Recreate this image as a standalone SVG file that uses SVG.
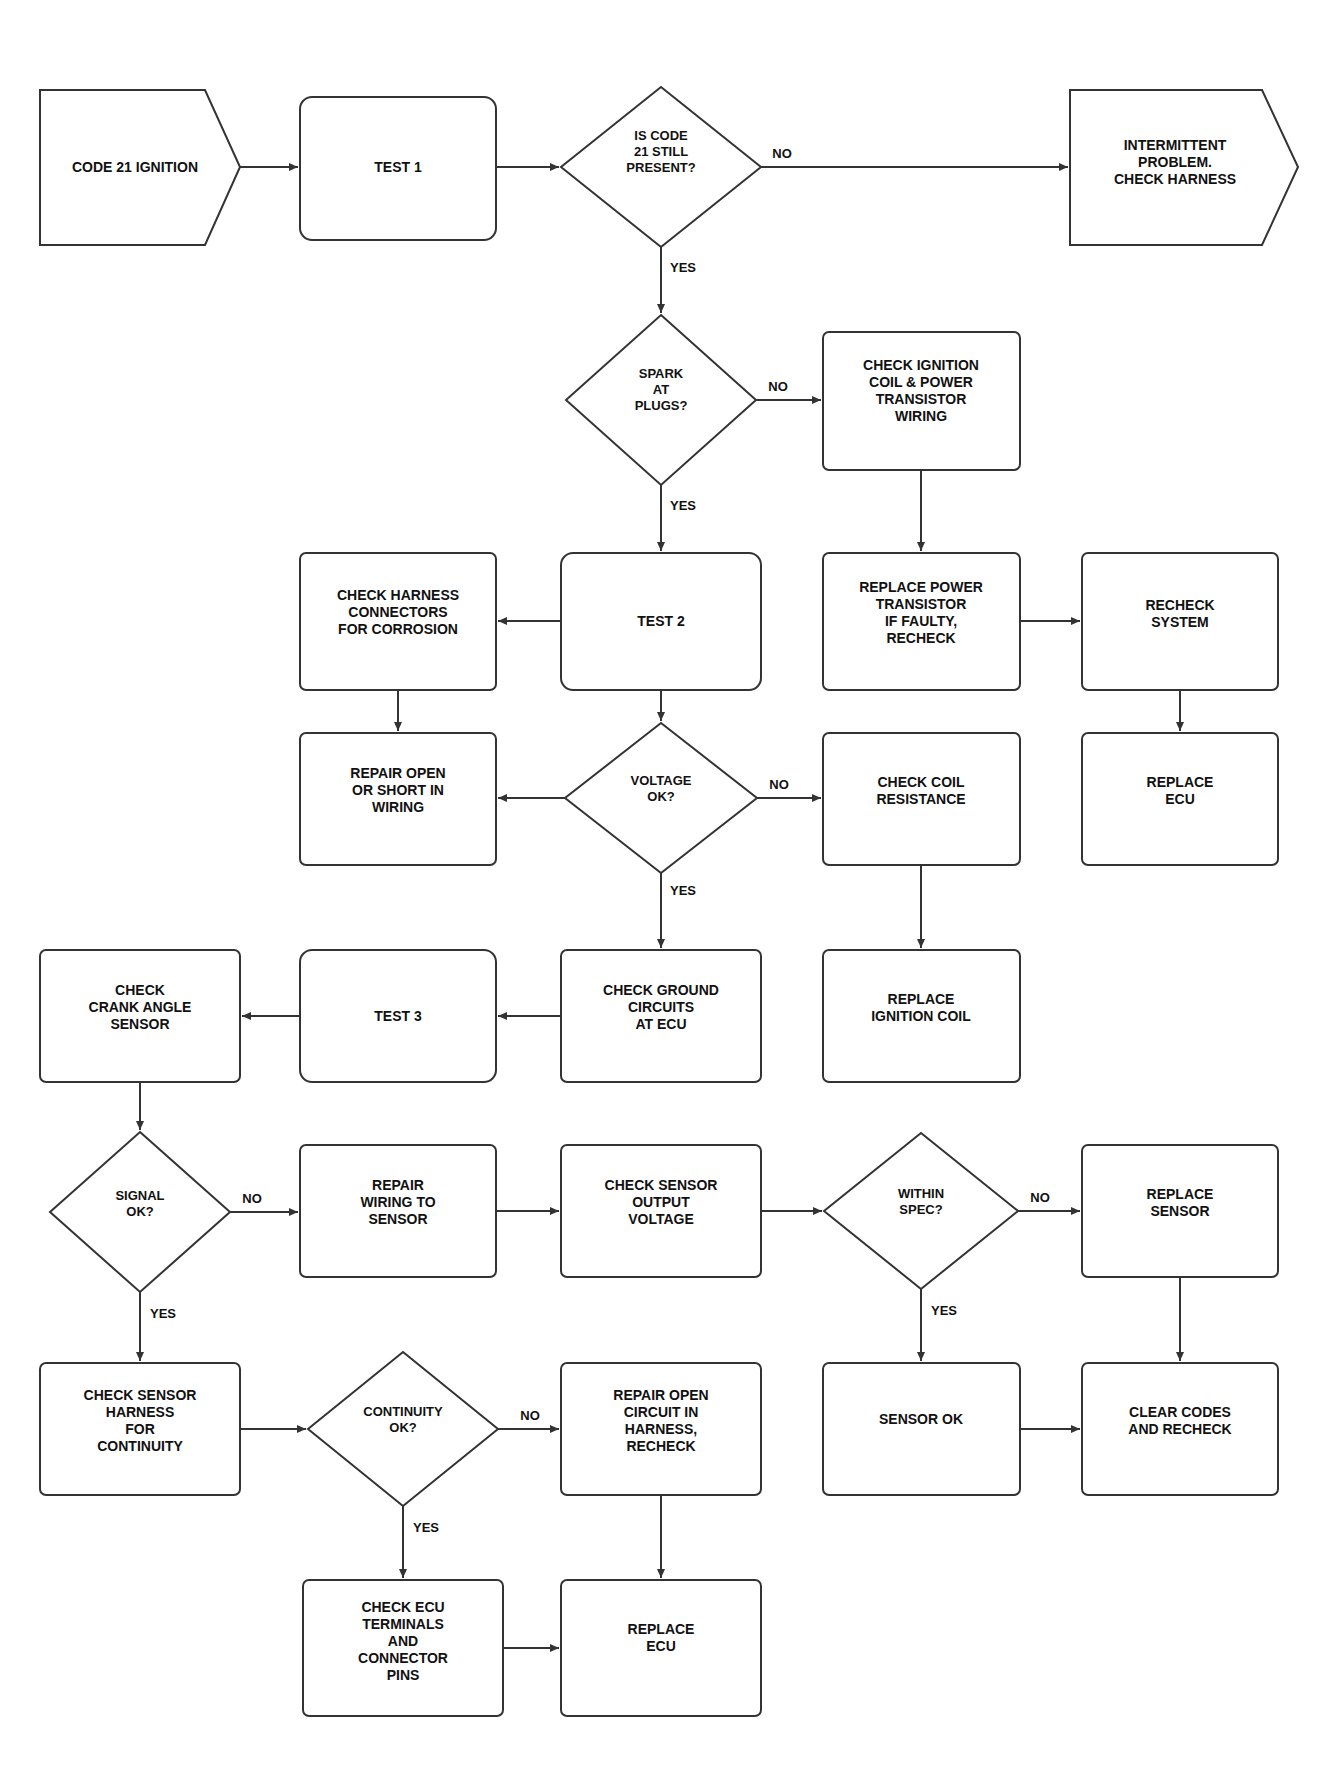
<svg xmlns="http://www.w3.org/2000/svg" width="1340" height="1790" viewBox="0 0 1340 1790">
<style>
.s{fill:#fff;stroke:#333;stroke-width:2}
.c{fill:none;stroke:#333;stroke-width:2;marker-end:url(#ah)}
.t{font-family:"Liberation Sans",Arial,sans-serif;font-size:14px;font-weight:bold;fill:#111;text-anchor:middle}
.l{font-family:"Liberation Sans",Arial,sans-serif;font-size:13px;font-weight:bold;fill:#111;text-anchor:middle}
</style>
<defs>
<marker id="ah" markerWidth="10" markerHeight="10" refX="9" refY="5" orient="auto" markerUnits="userSpaceOnUse">
<path d="M0,1 L9,5 L0,9 Z" fill="#333"/>
</marker>
</defs>
<rect width="1340" height="1790" fill="#fff"/>
<g id="connectors">
<path class="c" d="M240 167 H298"/>
<path class="c" d="M496 167 H559"/>
<path class="c" d="M761 167 H1068"/>
<path class="c" d="M661 247 V313"/>
<path class="c" d="M756 400 H821"/>
<path class="c" d="M661 485 V551"/>
<path class="c" d="M561 621 H498"/>
<path class="c" d="M921 470 V551"/>
<path class="c" d="M1020 621 H1080"/>
<path class="c" d="M398 690 V731"/>
<path class="c" d="M661 690 V721"/>
<path class="c" d="M565 798 H498"/>
<path class="c" d="M757 798 H821"/>
<path class="c" d="M1180 690 V731"/>
<path class="c" d="M661 873 V948"/>
<path class="c" d="M561 1016 H498"/>
<path class="c" d="M300 1016 H242"/>
<path class="c" d="M921 865 V948"/>
<path class="c" d="M140 1082 V1130"/>
<path class="c" d="M230 1212 H298"/>
<path class="c" d="M496 1211 H559"/>
<path class="c" d="M761 1211 H822"/>
<path class="c" d="M1018 1211 H1080"/>
<path class="c" d="M140 1292 V1361"/>
<path class="c" d="M240 1429 H306"/>
<path class="c" d="M498 1429 H559"/>
<path class="c" d="M921 1289 V1361"/>
<path class="c" d="M1020 1429 H1080"/>
<path class="c" d="M1180 1277 V1361"/>
<path class="c" d="M403 1506 V1578"/>
<path class="c" d="M661 1495 V1578"/>
<path class="c" d="M503 1648 H559"/>
<text class="l" x="782" y="158">NO</text>
<text class="l" x="683" y="272">YES</text>
<text class="l" x="778" y="391">NO</text>
<text class="l" x="683" y="510">YES</text>
<text class="l" x="779" y="789">NO</text>
<text class="l" x="683" y="895">YES</text>
<text class="l" x="252" y="1203">NO</text>
<text class="l" x="163" y="1318">YES</text>
<text class="l" x="1040" y="1202">NO</text>
<text class="l" x="944" y="1315">YES</text>
<text class="l" x="530" y="1420">NO</text>
<text class="l" x="426" y="1532">YES</text>
</g>
<g id="nA"><polygon class="s" points="40,90 205,90 240,167 205,245 40,245"/><text class="t" x="135" y="172">CODE 21 IGNITION</text></g>
<g id="nB"><rect class="s" x="300" y="97" width="196" height="143" rx="12"/><text class="t" x="398" y="172">TEST 1</text></g>
<g id="nC"><polygon class="s" points="661,87 761,167 661,247 561,167"/><text class="l" x="661" y="140"><tspan x="661">IS CODE</tspan><tspan x="661" dy="16">21 STILL</tspan><tspan x="661" dy="16">PRESENT?</tspan></text></g>
<g id="nD"><polygon class="s" points="1070,90 1262,90 1298,167 1262,245 1070,245"/><text class="t" x="1175" y="150"><tspan x="1175">INTERMITTENT</tspan><tspan x="1175" dy="17">PROBLEM.</tspan><tspan x="1175" dy="17">CHECK HARNESS</tspan></text></g>
<g id="nE"><polygon class="s" points="661,315 756,400 661,485 566,400"/><text class="l" x="661" y="378"><tspan x="661">SPARK</tspan><tspan x="661" dy="16">AT</tspan><tspan x="661" dy="16">PLUGS?</tspan></text></g>
<g id="nF"><rect class="s" x="823" y="332" width="197" height="138" rx="6"/><text class="t" x="921" y="370"><tspan x="921">CHECK IGNITION</tspan><tspan x="921" dy="17">COIL &amp; POWER</tspan><tspan x="921" dy="17">TRANSISTOR</tspan><tspan x="921" dy="17">WIRING</tspan></text></g>
<g id="nG"><rect class="s" x="300" y="553" width="196" height="137" rx="6"/><text class="t" x="398" y="600"><tspan x="398">CHECK HARNESS</tspan><tspan x="398" dy="17">CONNECTORS</tspan><tspan x="398" dy="17">FOR CORROSION</tspan></text></g>
<g id="nH"><rect class="s" x="561" y="553" width="200" height="137" rx="12"/><text class="t" x="661" y="626">TEST 2</text></g>
<g id="nI"><rect class="s" x="823" y="553" width="197" height="137" rx="6"/><text class="t" x="921" y="592"><tspan x="921">REPLACE POWER</tspan><tspan x="921" dy="17">TRANSISTOR</tspan><tspan x="921" dy="17">IF FAULTY,</tspan><tspan x="921" dy="17">RECHECK</tspan></text></g>
<g id="nJ"><rect class="s" x="1082" y="553" width="196" height="137" rx="6"/><text class="t" x="1180" y="610"><tspan x="1180">RECHECK</tspan><tspan x="1180" dy="17">SYSTEM</tspan></text></g>
<g id="nK"><rect class="s" x="300" y="733" width="196" height="132" rx="6"/><text class="t" x="398" y="778"><tspan x="398">REPAIR OPEN</tspan><tspan x="398" dy="17">OR SHORT IN</tspan><tspan x="398" dy="17">WIRING</tspan></text></g>
<g id="nL"><polygon class="s" points="661,723 757,798 661,873 565,798"/><text class="l" x="661" y="785"><tspan x="661">VOLTAGE</tspan><tspan x="661" dy="16">OK?</tspan></text></g>
<g id="nM"><rect class="s" x="823" y="733" width="197" height="132" rx="6"/><text class="t" x="921" y="787"><tspan x="921">CHECK COIL</tspan><tspan x="921" dy="17">RESISTANCE</tspan></text></g>
<g id="nN"><rect class="s" x="1082" y="733" width="196" height="132" rx="6"/><text class="t" x="1180" y="787"><tspan x="1180">REPLACE</tspan><tspan x="1180" dy="17">ECU</tspan></text></g>
<g id="nO"><rect class="s" x="40" y="950" width="200" height="132" rx="6"/><text class="t" x="140" y="995"><tspan x="140">CHECK</tspan><tspan x="140" dy="17">CRANK ANGLE</tspan><tspan x="140" dy="17">SENSOR</tspan></text></g>
<g id="nP"><rect class="s" x="300" y="950" width="196" height="132" rx="12"/><text class="t" x="398" y="1021">TEST 3</text></g>
<g id="nQ"><rect class="s" x="561" y="950" width="200" height="132" rx="6"/><text class="t" x="661" y="995"><tspan x="661">CHECK GROUND</tspan><tspan x="661" dy="17">CIRCUITS</tspan><tspan x="661" dy="17">AT ECU</tspan></text></g>
<g id="nR"><rect class="s" x="823" y="950" width="197" height="132" rx="6"/><text class="t" x="921" y="1004"><tspan x="921">REPLACE</tspan><tspan x="921" dy="17">IGNITION COIL</tspan></text></g>
<g id="nS"><polygon class="s" points="140,1132 230,1212 140,1292 50,1212"/><text class="l" x="140" y="1200"><tspan x="140">SIGNAL</tspan><tspan x="140" dy="16">OK?</tspan></text></g>
<g id="nT"><rect class="s" x="300" y="1145" width="196" height="132" rx="6"/><text class="t" x="398" y="1190"><tspan x="398">REPAIR</tspan><tspan x="398" dy="17">WIRING TO</tspan><tspan x="398" dy="17">SENSOR</tspan></text></g>
<g id="nU"><rect class="s" x="561" y="1145" width="200" height="132" rx="6"/><text class="t" x="661" y="1190"><tspan x="661">CHECK SENSOR</tspan><tspan x="661" dy="17">OUTPUT</tspan><tspan x="661" dy="17">VOLTAGE</tspan></text></g>
<g id="nV"><polygon class="s" points="921,1133 1018,1211 921,1289 824,1211"/><text class="l" x="921" y="1198"><tspan x="921">WITHIN</tspan><tspan x="921" dy="16">SPEC?</tspan></text></g>
<g id="nW"><rect class="s" x="1082" y="1145" width="196" height="132" rx="6"/><text class="t" x="1180" y="1199"><tspan x="1180">REPLACE</tspan><tspan x="1180" dy="17">SENSOR</tspan></text></g>
<g id="nX"><rect class="s" x="40" y="1363" width="200" height="132" rx="6"/><text class="t" x="140" y="1400"><tspan x="140">CHECK SENSOR</tspan><tspan x="140" dy="17">HARNESS</tspan><tspan x="140" dy="17">FOR</tspan><tspan x="140" dy="17">CONTINUITY</tspan></text></g>
<g id="nY"><polygon class="s" points="403,1352 498,1429 403,1506 308,1429"/><text class="l" x="403" y="1416"><tspan x="403">CONTINUITY</tspan><tspan x="403" dy="16">OK?</tspan></text></g>
<g id="nZ"><rect class="s" x="561" y="1363" width="200" height="132" rx="6"/><text class="t" x="661" y="1400"><tspan x="661">REPAIR OPEN</tspan><tspan x="661" dy="17">CIRCUIT IN</tspan><tspan x="661" dy="17">HARNESS,</tspan><tspan x="661" dy="17">RECHECK</tspan></text></g>
<g id="nAA"><rect class="s" x="823" y="1363" width="197" height="132" rx="6"/><text class="t" x="921" y="1424">SENSOR OK</text></g>
<g id="nAB"><rect class="s" x="1082" y="1363" width="196" height="132" rx="6"/><text class="t" x="1180" y="1417"><tspan x="1180">CLEAR CODES</tspan><tspan x="1180" dy="17">AND RECHECK</tspan></text></g>
<g id="nAC"><rect class="s" x="303" y="1580" width="200" height="136" rx="6"/><text class="t" x="403" y="1612"><tspan x="403">CHECK ECU</tspan><tspan x="403" dy="17">TERMINALS</tspan><tspan x="403" dy="17">AND</tspan><tspan x="403" dy="17">CONNECTOR</tspan><tspan x="403" dy="17">PINS</tspan></text></g>
<g id="nAD"><rect class="s" x="561" y="1580" width="200" height="136" rx="6"/><text class="t" x="661" y="1634"><tspan x="661">REPLACE</tspan><tspan x="661" dy="17">ECU</tspan></text></g>
</svg>
